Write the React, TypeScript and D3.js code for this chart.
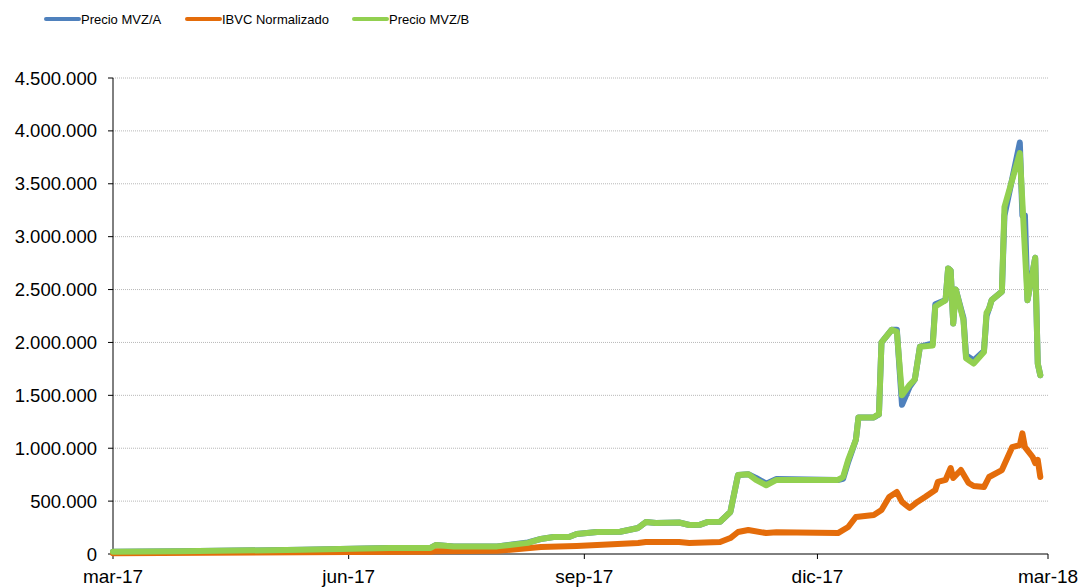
import React from "react";
import * as d3 from "d3";

// Series values: [date, value]
const precioA: [string, number][] = [
  ["2017-03-01", 22000], ["2017-03-27", 25000], ["2017-05-14", 40000], ["2017-06-17", 57000],
  ["2017-07-03", 57000], ["2017-07-05", 85000], ["2017-07-12", 70000], ["2017-07-29", 72000],
  ["2017-08-10", 110000], ["2017-08-15", 142000], ["2017-08-20", 160000], ["2017-08-26", 160000],
  ["2017-08-29", 189000], ["2017-09-06", 208000], ["2017-09-15", 210000], ["2017-09-22", 246000],
  ["2017-09-25", 302000], ["2017-09-29", 293000], ["2017-10-08", 298000], ["2017-10-12", 274000],
  ["2017-10-16", 276000], ["2017-10-19", 302000], ["2017-10-24", 305000], ["2017-10-28", 397000],
  ["2017-10-31", 747000], ["2017-11-04", 755000], ["2017-11-07", 720000], ["2017-11-11", 665000],
  ["2017-11-15", 710000], ["2017-12-09", 700000], ["2017-12-11", 710000], ["2017-12-13", 870000],
  ["2017-12-16", 1080000], ["2017-12-17", 1290000], ["2017-12-23", 1290000], ["2017-12-25", 1320000],
  ["2017-12-26", 2000000], ["2017-12-30", 2120000], ["2018-01-01", 2120000], ["2018-01-03", 1410000],
  ["2018-01-06", 1580000], ["2018-01-08", 1650000], ["2018-01-10", 1960000], ["2018-01-15", 1990000],
  ["2018-01-16", 2360000], ["2018-01-20", 2400000], ["2018-01-21", 2700000], ["2018-01-22", 2680000],
  ["2018-01-23", 2180000], ["2018-01-24", 2500000], ["2018-01-27", 2230000], ["2018-01-28", 1880000],
  ["2018-01-31", 1830000], ["2018-02-04", 1920000], ["2018-02-05", 2250000], ["2018-02-06", 2320000],
  ["2018-02-07", 2400000], ["2018-02-11", 2480000], ["2018-02-12", 3200000], ["2018-02-18", 3890000],
  ["2018-02-19", 3200000], ["2018-02-20", 3200000], ["2018-02-21", 2400000], ["2018-02-24", 2800000],
  ["2018-02-25", 1800000], ["2018-02-26", 1690000],
];

const ibvc: [string, number][] = [
  ["2017-03-01", 8000], ["2017-06-01", 20000], ["2017-07-03", 22000], ["2017-07-05", 25000],
  ["2017-07-29", 30000], ["2017-08-15", 66000], ["2017-08-29", 76000], ["2017-09-22", 104000],
  ["2017-09-25", 113000], ["2017-10-08", 113000], ["2017-10-12", 104000], ["2017-10-24", 113000],
  ["2017-10-28", 151000], ["2017-10-31", 208000], ["2017-11-04", 227000], ["2017-11-11", 198000],
  ["2017-11-15", 205000], ["2017-12-09", 198000], ["2017-12-13", 255000], ["2017-12-16", 350000],
  ["2017-12-23", 369000], ["2017-12-26", 416000], ["2017-12-29", 539000], ["2018-01-01", 586000],
  ["2018-01-03", 492000], ["2018-01-06", 435000], ["2018-01-09", 492000], ["2018-01-12", 539000],
  ["2018-01-16", 605000], ["2018-01-17", 681000], ["2018-01-20", 700000], ["2018-01-22", 813000],
  ["2018-01-23", 718000], ["2018-01-26", 794000], ["2018-01-29", 671000], ["2018-01-31", 643000],
  ["2018-02-04", 633000], ["2018-02-06", 728000], ["2018-02-11", 794000], ["2018-02-15", 1010000],
  ["2018-02-18", 1030000], ["2018-02-19", 1140000], ["2018-02-20", 1010000], ["2018-02-23", 917000],
  ["2018-02-24", 860000], ["2018-02-25", 890000], ["2018-02-26", 728000],
];

const precioB: [string, number][] = [
  ["2017-03-01", 22000], ["2017-03-27", 25000], ["2017-05-14", 40000], ["2017-06-17", 57000],
  ["2017-07-03", 57000], ["2017-07-05", 85000], ["2017-07-12", 70000], ["2017-07-29", 72000],
  ["2017-08-10", 105000], ["2017-08-15", 142000], ["2017-08-20", 160000], ["2017-08-26", 160000],
  ["2017-08-29", 189000], ["2017-09-06", 208000], ["2017-09-15", 210000], ["2017-09-22", 246000],
  ["2017-09-25", 302000], ["2017-09-29", 293000], ["2017-10-08", 298000], ["2017-10-12", 274000],
  ["2017-10-16", 276000], ["2017-10-19", 302000], ["2017-10-24", 305000], ["2017-10-28", 397000],
  ["2017-10-31", 747000], ["2017-11-04", 755000], ["2017-11-07", 700000], ["2017-11-11", 650000],
  ["2017-11-15", 700000], ["2017-12-09", 700000], ["2017-12-11", 728000], ["2017-12-13", 890000],
  ["2017-12-16", 1080000], ["2017-12-17", 1290000], ["2017-12-23", 1290000], ["2017-12-24", 1310000],
  ["2017-12-25", 1320000], ["2017-12-26", 2000000], ["2017-12-30", 2120000], ["2018-01-01", 2100000],
  ["2018-01-03", 1500000], ["2018-01-06", 1600000], ["2018-01-08", 1650000], ["2018-01-10", 1960000],
  ["2018-01-15", 1970000], ["2018-01-16", 2340000], ["2018-01-20", 2400000], ["2018-01-21", 2700000],
  ["2018-01-22", 2680000], ["2018-01-23", 2180000], ["2018-01-24", 2500000], ["2018-01-27", 2210000],
  ["2018-01-28", 1850000], ["2018-01-31", 1800000], ["2018-02-04", 1910000], ["2018-02-05", 2280000],
  ["2018-02-06", 2320000], ["2018-02-07", 2400000], ["2018-02-11", 2480000], ["2018-02-12", 3280000],
  ["2018-02-18", 3790000], ["2018-02-21", 2400000], ["2018-02-24", 2800000], ["2018-02-25", 1800000],
  ["2018-02-26", 1690000],
];

const seriesNames = ["Precio MVZ/A", "IBVC Normalizado", "Precio MVZ/B"];
const seriesColors = ["#4f81bd", "#e46c0a", "#92d050"];
const xTicks = ["2017-03-01", "2017-06-01", "2017-09-01", "2017-12-01", "2018-03-01"];
const xTickLabels = ["mar-17", "jun-17", "sep-17", "dic-17", "mar-18"];
const yTicks = [0, 500000, 1000000, 1500000, 2000000, 2500000, 3000000, 3500000, 4000000, 4500000];

const esLocale = d3.formatLocale({ decimal: ",", thousands: ".", grouping: [3], currency: ["", ""] });
const fmt = esLocale.format(",d");
const parse = d3.timeParse("%Y-%m-%d");

const App = () => {
  const width = 1080;
  const height = 588;
  const margin = { top: 78, right: 32, bottom: 34, left: 113 };

  const x = d3.scaleTime()
    .domain([parse("2017-03-01")!, parse("2018-03-01")!])
    .range([margin.left, width - margin.right]);
  const y = d3.scaleLinear().domain([0, 4500000]).range([height - margin.bottom, margin.top]);

  const line = d3.line<[string, number]>()
    .x((d) => x(parse(d[0])!))
    .y((d) => y(d[1]));

  const allSeries = [precioA, ibvc, precioB];
  const font = "'Liberation Sans', Arial, sans-serif";
  const legendX = [46, 187, 354];

  return (
    <svg width={width} height={height} style={{ position: "absolute", left: 0, top: 0, background: "#fff" }}>
      {/* gridlines */}
      {yTicks.slice(1).map((t) => (
        <line key={t} x1={x.range()[0]} x2={x.range()[1]} y1={y(t)} y2={y(t)}
          stroke="#b8b8b8" strokeWidth={1} strokeDasharray="1,1" />
      ))}

      {/* y axis */}
      <line x1={margin.left} x2={margin.left} y1={y(4500000)} y2={y(0)} stroke="#000" strokeWidth={1} />
      {yTicks.map((t) => (
        <g key={t}>
          <line x1={margin.left - 5} x2={margin.left} y1={y(t)} y2={y(t)} stroke="#000" />
          <text x={97} y={y(t) + 6.5} textAnchor="end" fontFamily={font} fontSize={18.5} fill="#000">
            {fmt(t)}
          </text>
        </g>
      ))}

      {/* x axis */}
      <line x1={x.range()[0]} x2={x.range()[1]} y1={y(0)} y2={y(0)} stroke="#000" strokeWidth={1} />
      {xTicks.map((t, i) => (
        <g key={t}>
          <line x1={x(parse(t)!)} x2={x(parse(t)!)} y1={y(0)} y2={y(0) + 5} stroke="#000" />
          <text x={x(parse(t)!)} y={583} textAnchor="middle" fontFamily={font} fontSize={19} fill="#000">
            {xTickLabels[i]}
          </text>
        </g>
      ))}

      {/* lines */}
      {allSeries.map((s, i) => (
        <path key={seriesNames[i]} d={line(s) || ""} fill="none" stroke={seriesColors[i]}
          strokeWidth={6} strokeLinejoin="round" strokeLinecap="round" />
      ))}

      {/* legend */}
      {seriesNames.map((name, i) => (
        <g key={name}>
          <line x1={legendX[i]} x2={legendX[i] + 33} y1={19} y2={19} stroke={seriesColors[i]}
            strokeWidth={4} strokeLinecap="round" />
          <text x={legendX[i] + 35} y={23.5} fontFamily={font} fontSize={13} fill="#000">{name}</text>
        </g>
      ))}
    </svg>
  );
};

export default App;
